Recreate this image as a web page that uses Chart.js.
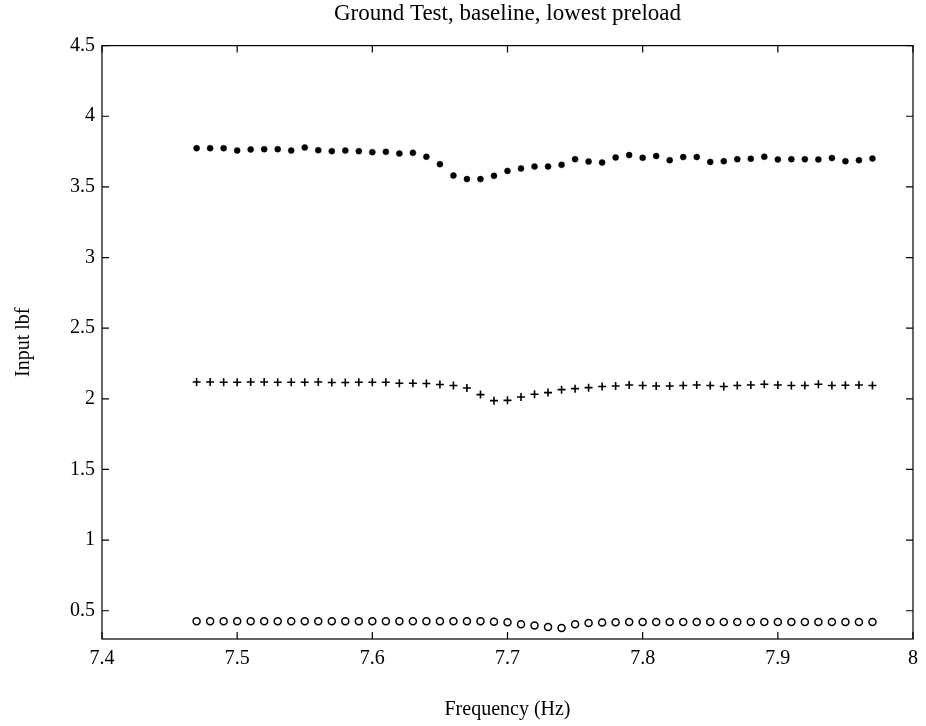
<!DOCTYPE html>
<html>
<head>
<meta charset="utf-8">
<script src="https://cdn.jsdelivr.net/npm/chart.js@4/dist/chart.umd.min.js"></script>
<style>
html,body{margin:0;padding:0;background:#fff;}
#wrap{width:926px;height:726px;}
</style>
</head>
<body>
<div id="wrap"><canvas id="c" width="926" height="726"></canvas></div>
<script>
const chartTitle = 'Ground Test, baseline, lowest preload';
const xTitle = 'Frequency (Hz)';
const yTitle = 'Input lbf';

const frequencies = [7.47,7.48,7.49,7.50,7.51,7.52,7.53,7.54,7.55,7.56,7.57,7.58,7.59,7.60,7.61,7.62,7.63,7.64,7.65,7.66,7.67,
  7.68,7.69,7.70,7.71,7.72,7.73,7.74,7.75,7.76,7.77,7.78,7.79,7.80,7.81,7.82,7.83,7.84,7.85,7.86,7.87,
  7.88,7.89,7.90,7.91,7.92,7.93,7.94,7.95,7.96,7.97];

const dotSeries = [3.774,3.774,3.774,3.757,3.765,3.767,3.767,3.757,3.779,3.760,3.753,3.757,3.753,3.746,3.748,3.736,3.741,3.713,3.661,3.580,3.555,
  3.555,3.578,3.613,3.630,3.644,3.644,3.656,3.696,3.679,3.672,3.708,3.725,3.706,3.718,3.689,3.711,3.711,3.677,3.682,3.696,
  3.699,3.713,3.694,3.696,3.696,3.694,3.704,3.682,3.689,3.701];

const plusSeries = [2.119,2.119,2.117,2.117,2.119,2.119,2.117,2.117,2.117,2.119,2.115,2.115,2.117,2.117,2.117,2.110,2.110,2.108,2.101,2.094,2.077,
  2.030,1.987,1.989,2.013,2.032,2.044,2.065,2.072,2.079,2.087,2.091,2.098,2.094,2.091,2.091,2.094,2.098,2.094,2.087,2.094,
  2.098,2.103,2.098,2.094,2.094,2.103,2.094,2.096,2.098,2.094];

const circleSeries = [0.425,0.425,0.425,0.425,0.425,0.425,0.425,0.425,0.425,0.425,0.425,0.425,0.425,0.425,0.425,0.425,0.425,0.425,0.425,0.425,0.425,
  0.425,0.422,0.418,0.405,0.395,0.385,0.378,0.405,0.413,0.417,0.418,0.420,0.420,0.420,0.420,0.420,0.420,0.420,0.420,0.420,
  0.420,0.420,0.420,0.420,0.420,0.420,0.420,0.420,0.420,0.420];

const xTickValues = [7.4,7.5,7.6,7.7,7.8,7.9,8];
const xTickLabels = ['7.4','7.5','7.6','7.7','7.8','7.9','8'];
const yTickValues = [0.5,1,1.5,2,2.5,3,3.5,4,4.5];
const yTickLabels = ['0.5','1','1.5','2','2.5','3','3.5','4','4.5'];

const FONT = "'Liberation Serif', 'DejaVu Serif', serif";

function pts(ys){ return frequencies.map((x,i)=>({x:x, y:ys[i]})); }

const frameTicks = {
  id:'frameTicks',
  afterDraw(chart){
    const {ctx, chartArea:a, scales:{x, y}} = chart;
    ctx.save();
    ctx.strokeStyle = '#000';
    ctx.lineWidth = 1.2;
    ctx.strokeRect(a.left, a.top, a.right-a.left, a.bottom-a.top);
    const L = 7;
    ctx.beginPath();
    xTickValues.forEach(v=>{
      const px = x.getPixelForValue(v);
      ctx.moveTo(px, a.bottom); ctx.lineTo(px, a.bottom-L);
      ctx.moveTo(px, a.top); ctx.lineTo(px, a.top+L);
    });
    yTickValues.forEach(v=>{
      const py = y.getPixelForValue(v);
      ctx.moveTo(a.left, py); ctx.lineTo(a.left+L, py);
      ctx.moveTo(a.right, py); ctx.lineTo(a.right-L, py);
    });
    ctx.stroke();
    ctx.restore();
  }
};

new Chart(document.getElementById('c'), {
  type:'scatter',
  data:{
    datasets:[
      {label:'dots', data:pts(dotSeries), pointStyle:'circle', pointRadius:3, backgroundColor:'#000', borderColor:'#000', borderWidth:0.5, showLine:false},
      {label:'plus', data:pts(plusSeries), pointStyle:'cross', pointRadius:4, backgroundColor:'#000', borderColor:'#000', borderWidth:1.6, showLine:false},
      {label:'circles', data:pts(circleSeries), pointStyle:'circle', pointRadius:3.5, backgroundColor:'rgba(0,0,0,0)', borderColor:'#000', borderWidth:1.5, showLine:false}
    ]
  },
  options:{
    responsive:false,
    animation:false,
    layout:{padding:{left:0, right:13, top:0, bottom:0}},
    plugins:{
      legend:{display:false},
      tooltip:{enabled:false},
      title:{display:true, text:chartTitle, fullSize:false, color:'#000',
        font:{family:FONT, size:23, weight:'normal'}, padding:{top:0, bottom:18}}
    },
    scales:{
      x:{
        type:'linear', min:7.4, max:8,
        afterBuildTicks(s){ s.ticks = xTickValues.map(v=>({value:v})); },
        afterFit(s){ s.height = 87; },
        ticks:{color:'#000', font:{family:FONT, size:20}, padding:8,
          callback:(v)=>{ const i = xTickValues.findIndex(t=>Math.abs(t-v)<1e-9); return i>=0 ? xTickLabels[i] : ''; }},
        grid:{display:false, drawTicks:false},
        border:{display:false},
        title:{display:true, text:xTitle, color:'#000', font:{family:FONT, size:20}, padding:{top:0, bottom:4}}
      },
      y:{
        type:'linear', min:0.3, max:4.5,
        afterBuildTicks(s){ s.ticks = yTickValues.map(v=>({value:v})); },
        afterFit(s){ s.width = 102; },
        ticks:{color:'#000', font:{family:FONT, size:20}, padding:7,
          callback:(v)=>{ const i = yTickValues.findIndex(t=>Math.abs(t-v)<1e-9); return i>=0 ? yTickLabels[i] : ''; }},
        grid:{display:false, drawTicks:false},
        border:{display:false},
        title:{display:true, text:yTitle, color:'#000', font:{family:FONT, size:20}, padding:{top:12, bottom:0}}
      }
    }
  },
  plugins:[frameTicks]
});
</script>
</body>
</html>
